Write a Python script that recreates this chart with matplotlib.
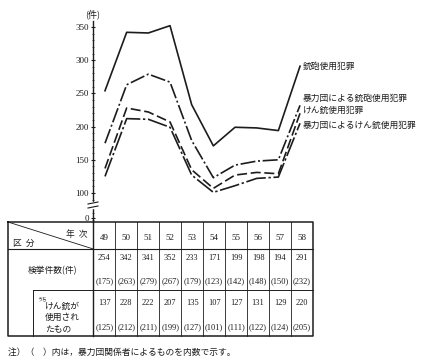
import matplotlib
matplotlib.use('Agg')
import matplotlib.pyplot as plt

plt.rcParams['font.family'] = ['Noto Sans CJK JP', 'DejaVu Sans']

years = ['49', '50', '51', '52', '53', '54', '55', '56', '57', '58']
total = [254, 342, 341, 352, 233, 171, 199, 198, 194, 291]
total_gang = [175, 263, 279, 267, 179, 123, 142, 148, 150, 232]
pistol = [137, 228, 222, 207, 135, 107, 127, 131, 129, 220]
pistol_gang = [125, 212, 211, 199, 127, 101, 111, 122, 124, 205]
names = ['銃砲使用犯罪', '暴力団による銃砲使用犯罪', 'けん銃使用犯罪', '暴力団によるけん銃使用犯罪']
yticks = [100, 150, 200, 250, 300, 350]

W, H = 423, 361
ink = '#1c1c1c'
num_font = ['Liberation Serif', 'DejaVu Serif']

fig = plt.figure(figsize=(W / 100, H / 100), dpi=100)

# chart area in pixels
left, right, top, bottom = 93, 313, 21, 222
px_per_unit = 0.664
y100 = 193
ax = fig.add_axes([left / W, 1 - bottom / H, (right - left) / W, (bottom - top) / H])
ax.set_ylim(100 - (bottom - y100) / px_per_unit, 100 + (y100 - top) / px_per_unit)
x0, step = 105, 21.67
ax.set_xlim(-(x0 - left) / step, (right - x0) / step)
ax.patch.set_alpha(0)

xs = list(range(len(years)))
styles = ['-', (0, (9, 1.6, 1.2, 1.6)), (0, (6, 2.2)), (0, (12, 1.6, 1.4, 1.6))]
series = [total, total_gang, pistol, pistol_gang]
offsets = [(3, 0), (3, 7), (3, 3), (3, -2)]
for vals, ls, name, off in zip(series, styles, names, offsets):
    ax.plot(xs, vals, color=ink, lw=1.2, ls=ls, clip_on=False)
    ax.annotate(name, (xs[-1], vals[-1]), xytext=off, textcoords='offset pixels',
                fontsize=6.3, color=ink, va='center', ha='left', annotation_clip=False)

for s in ['top', 'right', 'bottom']:
    ax.spines[s].set_visible(False)
ax.spines['left'].set_color(ink)
ax.spines['left'].set_linewidth(1.0)
ax.set_xticks([])
zero_val = 100 - (218 - y100) / px_per_unit
ax.set_yticks(yticks + [zero_val])
ax.set_yticklabels([str(t) for t in yticks] + ['0'], fontsize=6.5, family=num_font, color=ink)
ax.set_yticks(range(60, 360, 10), minor=True)
ax.tick_params(axis='y', which='major', length=3, width=0.8, pad=1.5, color=ink, direction='inout')
ax.tick_params(axis='y', which='minor', length=1.5, width=0.5, color=ink, direction='inout')

# overlay in pixel coords for table, unit label, break mark
ov = fig.add_axes([0, 0, 1, 1])
ov.set_xlim(0, W)
ov.set_ylim(H, 0)
ov.axis('off')
ov.patch.set_alpha(0)

ov.text(93, 14, '(件)', fontsize=6.5, ha='center', va='center', color=ink)

# axis break
ov.fill_between([89, 98], 202, 208, color='white', zorder=3)
for yb in (203, 207):
    ov.plot([88, 98], [yb + 1, yb - 1], color=ink, lw=0.8, zorder=4)

# table
t_left, t_right = 8, 313
c0 = 93.3
cw = (t_right - c0) / len(years)
r_top, r_head, r_mid, r_bot = 222, 249, 290, 336
lk = dict(color=ink, zorder=5)
ov.plot([t_left, t_right, t_right, t_left, t_left], [r_top, r_top, r_bot, r_bot, r_top], lw=1.1, **lk)
ov.plot([t_left, t_right], [r_head, r_head], lw=0.8, **lk)
ov.plot([33, t_right], [r_mid, r_mid], lw=0.7, **lk)
ov.plot([33, 33], [r_mid, r_bot], lw=0.7, **lk)
ov.plot([c0, c0], [r_top, r_bot], lw=1.0, **lk)
for k in range(1, len(years)):
    xv = c0 + cw * k
    ov.plot([xv, xv], [r_top, r_bot], lw=0.6, **lk)
ov.plot([t_left, c0], [r_top, r_head], lw=0.6, **lk)

ov.text(77, 234, '年  次', fontsize=6.3, ha='center', va='center', color=ink)
ov.text(24, 243, '区  分', fontsize=6.3, ha='center', va='center', color=ink)
ov.text(52, 271, '検挙件数(件)', fontsize=6.3, ha='center', va='center', color=ink)
ov.text(37, 299, 'うち', fontsize=3.5, ha='left', va='center', color=ink)
ov.text(45, 306, 'けん銃が', fontsize=6.3, ha='left', va='center', color=ink)
ov.text(45, 317.5, '使用され', fontsize=6.3, ha='left', va='center', color=ink)
ov.text(45, 329, 'たもの', fontsize=6.3, ha='left', va='center', color=ink)

for k, yr in enumerate(years):
    xc = c0 + cw * (k + 0.5)
    ov.text(xc, 238, yr, fontsize=6.5, family=num_font, ha='center', va='center', color=ink)
    ov.text(xc, 258, str(total[k]), fontsize=6, family=num_font, ha='center', va='center', color=ink)
    ov.text(xc, 281, f'({total_gang[k]})', fontsize=6, family=num_font, ha='center', va='center', color=ink)
    ov.text(xc, 303, str(pistol[k]), fontsize=6, family=num_font, ha='center', va='center', color=ink)
    ov.text(xc, 327, f'({pistol_gang[k]})', fontsize=6, family=num_font, ha='center', va='center', color=ink)

ov.text(8, 352, '注）（　）内は，暴力団関係者によるものを内数で示す。', fontsize=6.3,
        ha='left', va='center', color=ink)

fig.savefig('out.png', dpi=100, facecolor='white')
